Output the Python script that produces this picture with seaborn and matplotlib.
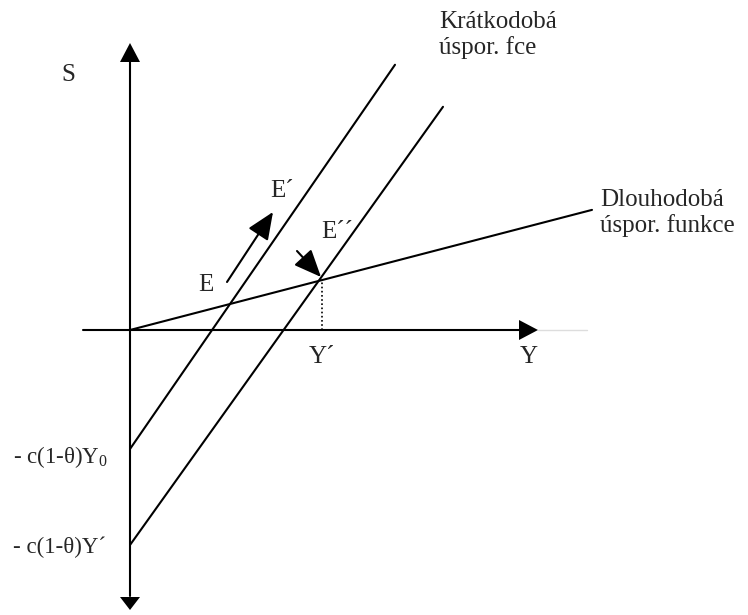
import matplotlib
matplotlib.use("Agg")
import matplotlib.pyplot as plt
import seaborn as sns
import pandas as pd
import numpy as np

# souradnice diagramu: pocatek = prusecik os, jednotka = 1 px
# dlouhodoba usporna funkce S = a*Y
long_slope = 0.26
long_y_end = 462
# kratkodobe usporne funkce S = b + c*Y
short_intercepts = [-119, -215]
short_slopes = [1.45, 1.40]
short_y_ends = [265, 313]
y_prime = 192  # Y´

# osy
axis_y_left, axis_y_right = -47, 408
axis_s_bottom, axis_s_top = -280, 287

sns.set_theme(style="white")
plt.rcParams['font.family'] = ['Liberation Serif', 'DejaVu Serif']
plt.rcParams['mathtext.fontset'] = 'custom'
plt.rcParams['mathtext.rm'] = 'Liberation Serif'

fig = plt.figure(figsize=(7.48, 6.15), dpi=100)
ax = fig.add_axes([0, 0, 1, 1])
ax.set_xlim(-130, 618)
ax.set_ylim(-285, 330)
ax.axis('off')

# primky pres seaborn
rows = []
for name, x_end, b, c in [('long', long_y_end, 0, long_slope),
                          ('short1', short_y_ends[0], short_intercepts[0], short_slopes[0]),
                          ('short2', short_y_ends[1], short_intercepts[1], short_slopes[1])]:
    for x in [0, x_end]:
        rows.append({'line': name, 'Y': x, 'S': b + c * x})
df = pd.DataFrame(rows)
sns.lineplot(data=df, x='Y', y='S', units='line', estimator=None, color='black',
             lw=1.5, ax=ax, sort=False)

# teckovana cara k Y´
s_at = long_slope * y_prime
ax.plot([y_prime, y_prime], [0, s_at], color='black', lw=1.2, ls=(0, (1, 1.5)))

# osy se sipkami
hw, hl = 20, 19
ax.plot([axis_y_left, axis_y_right - hl], [0, 0], color='black', lw=1.5)
ax.arrow(axis_y_right - hl, 0, hl, 0, head_width=hw, head_length=hl,
         length_includes_head=True, color='black', lw=0)
ax.plot([axis_y_right, axis_y_right + 49], [0, 0], color='#dddddd', lw=1)
ax.plot([0, 0], [axis_s_bottom + hl - 5, axis_s_top - hl], color='black', lw=1.5)
ax.arrow(0, axis_s_top - hl, 0, hl, head_width=hw, head_length=hl,
         length_includes_head=True, color='black', lw=0)
ax.arrow(0, axis_s_bottom + 13, 0, -13, head_width=hw, head_length=13,
         length_includes_head=True, color='black', lw=0)

# sipky E -> E´ a k E´´
arrow_style = '-|>,head_length=1.4,head_width=0.6'
ax.annotate('', xy=(143, 118), xytext=(97, 48),
            arrowprops=dict(arrowstyle=arrow_style, color='black', lw=1.5,
                            shrinkA=0, shrinkB=0))
ax.annotate('', xy=(191, 53), xytext=(167, 79),
            arrowprops=dict(arrowstyle=arrow_style, color='black', lw=1.5,
                            shrinkA=0, shrinkB=0))

fs = 18
ax.text(-62, 255, 'S', fontsize=fs, ha='center', va='center')
ax.text(399, -27, 'Y', fontsize=fs, ha='center', va='center')
ax.text(y_prime, -27, 'Y´', fontsize=fs, ha='center', va='center')
ax.text(76, 45, 'E', fontsize=fs, ha='center', va='center')
ax.text(152, 139, 'E´', fontsize=fs, ha='center', va='center')
ax.text(207, 98, 'E´´', fontsize=fs, ha='center', va='center')
ax.text(309, 308, 'Krátkodobá', fontsize=fs, ha='left', va='center')
ax.text(309, 282, 'úspor. fce', fontsize=fs, ha='left', va='center')
ax.text(470, 130, 'Dlouhodobá', fontsize=fs, ha='left', va='center')
ax.text(470, 104, 'úspor. funkce', fontsize=fs, ha='left', va='center')
ax.text(-117, -127, r'- c(1-θ)Y$_{\mathrm{0}}$', fontsize=16.5, ha='left', va='center')
ax.text(-117, -217, '- c(1-θ)Y´', fontsize=16.5, ha='left', va='center')

fig.savefig('out.png', dpi=100)
